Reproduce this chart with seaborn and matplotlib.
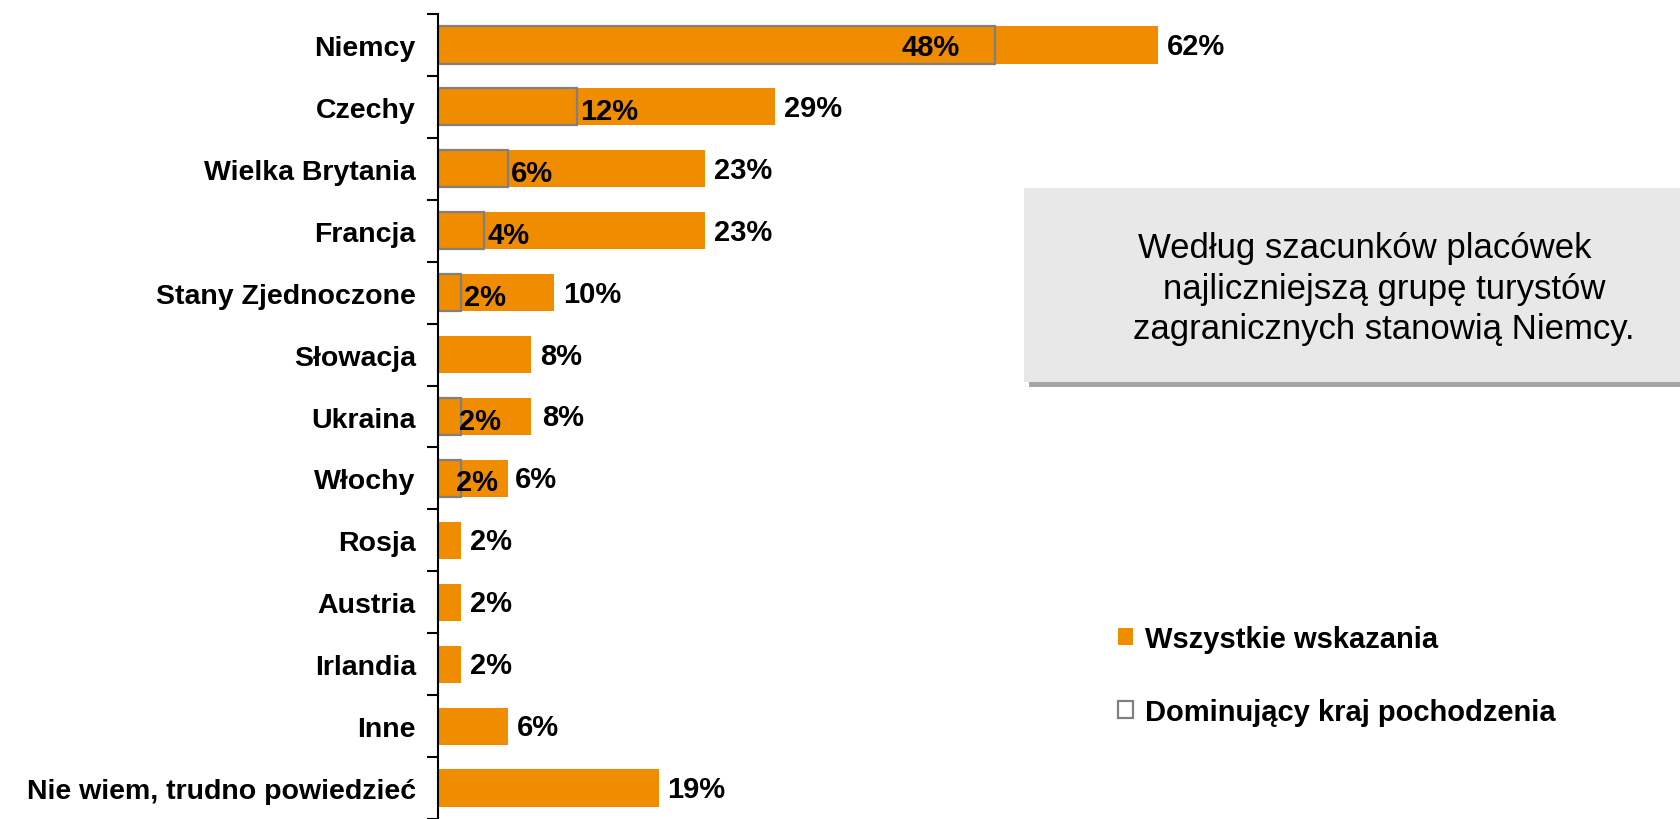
import numpy as np
import pandas as pd
import seaborn as sns
import matplotlib.pyplot as plt
from matplotlib.patches import Rectangle

# ---------------------------------------------------------------- data
categories = ['Niemcy', 'Czechy', 'Wielka Brytania', 'Francja', 'Stany Zjednoczone',
              'Słowacja', 'Ukraina', 'Włochy', 'Rosja', 'Austria', 'Irlandia', 'Inne',
              'Nie wiem, trudno powiedzieć']
all_mentions = [62, 29, 23, 23, 10, 8, 8, 6, 2, 2, 2, 6, 19]

dominant_cats = ['Niemcy', 'Czechy', 'Wielka Brytania', 'Francja', 'Stany Zjednoczone',
                 'Ukraina', 'Włochy']
dominant_vals = [48, 12, 6, 4, 2, 2, 2]

label_all = 'Wszystkie wskazania'
label_dom = 'Dominujący kraj pochodzenia'
note = 'Według szacunków placówek    \nnajliczniejszą grupę turystów\nzagranicznych stanowią Niemcy.'

# ---------------------------------------------------------------- style
orange = '#F08C00'
outline = '#808080'
sns.set_style('white')
plt.rcParams['font.family'] = ['Liberation Sans', 'DejaVu Sans']
plt.rcParams['text.color'] = 'black'
plt.rcParams['ytick.color'] = 'black'
plt.rcParams['ytick.labelcolor'] = 'black'

# label nudges in pixels (Excel moved a few labels around)
outer_nudge = {'Ukraina': 2, 'Włochy': -2}
inner_nudge = {'Ukraina': -5, 'Włochy': -8}

df_all = pd.DataFrame({'kraj': categories, 'proc': all_mentions})
df_dom = pd.DataFrame({'kraj': dominant_cats, 'proc': dominant_vals})

fig = plt.figure(figsize=(16.81, 8.2), dpi=100)
ax = fig.add_axes([438 / 1681, 0.0, 1 - 438 / 1681, 1 - 15 / 820])

sns.barplot(data=df_all, x='proc', y='kraj', order=categories, orient='h',
            color=orange, saturation=1, width=0.6, linewidth=0, errorbar=None,
            label=label_all, ax=ax)
sns.barplot(data=df_dom, x='proc', y='kraj', order=categories, orient='h',
            color=outline, fill=False, saturation=1, width=0.6, linewidth=1.6,
            errorbar=None, label=label_dom, ax=ax)

px = 72 / 100  # points per pixel
val_size = 21

# outer labels
for i, (c, v) in enumerate(zip(categories, all_mentions)):
    ax.annotate('{}%'.format(v), (v, i), xytext=((9 + outer_nudge.get(c, 0)) * px, -1 * px),
                textcoords='offset points', ha='left', va='center',
                fontsize=val_size, fontweight='bold', color='black')

# inner labels
for c, v in zip(dominant_cats, dominant_vals):
    i = categories.index(c)
    if v > 30:
        ax.annotate('{}%'.format(v), (v, i), xytext=(-36 * px, -2 * px),
                    textcoords='offset points', ha='right', va='center',
                    fontsize=val_size, fontweight='bold', color='black')
    else:
        ax.annotate('{}%'.format(v), (v, i), xytext=((3 + inner_nudge.get(c, 0)) * px, -4 * px),
                    textcoords='offset points', ha='left', va='center',
                    fontsize=val_size, fontweight='bold', color='black')

ax.set_xlim(0, (1681 - 438) / 11.61)
ax.set_ylim(12.44, -0.5)

ax.set_yticks(np.arange(-0.5, len(categories), 1))
ax.set_yticklabels([])
ax.set_yticks(np.arange(len(categories)), minor=True)
ax.set_yticklabels(categories, minor=True, fontweight='bold', fontsize=20.5, color='black')
ax.tick_params(axis='y', which='major', length=8, width=1.5, direction='out', left=True, color='black')
ax.tick_params(axis='y', which='minor', length=0, pad=16)
ax.set_xticks([])
ax.set_xlabel('')
ax.set_ylabel('')

for s in ['top', 'right', 'bottom']:
    ax.spines[s].set_visible(False)
ax.spines['left'].set_color('black')
ax.spines['left'].set_linewidth(1.5)
ax.spines['left'].set_zorder(5)

# text box with shadow
W, H = 1681, 820
fig.patches.append(Rectangle((1029 / W, 1 - 388 / H), (W - 1029) / W, (388 - 194) / H,
                             transform=fig.transFigure, facecolor='#A6A6A6',
                             edgecolor='none', zorder=0))
fig.patches.append(Rectangle((1024 / W, 1 - 383 / H), (W - 1024) / W, (383 - 189) / H,
                             transform=fig.transFigure, facecolor='#E8E8E8',
                             edgecolor='none', zorder=1))
fig.text(1384 / W, 1 - 289 / H, note, ha='center', va='center', multialignment='center',
         fontsize=25, linespacing=1.27, color='black')

# legend
handles, labels = ax.get_legend_handles_labels()
leg = ax.legend(handles, labels, loc='upper left', bbox_to_anchor=(1118 / W, 1 - 626 / H),
                bbox_transform=fig.transFigure, frameon=False, borderpad=0, borderaxespad=0,
                handlelength=0.53, handleheight=0.53, handletextpad=0.4, labelspacing=1.55,
                prop={'size': 21, 'weight': 'bold'})
for t in leg.get_texts():
    t.set_color('black')

fig.savefig('out.png', dpi=100)
